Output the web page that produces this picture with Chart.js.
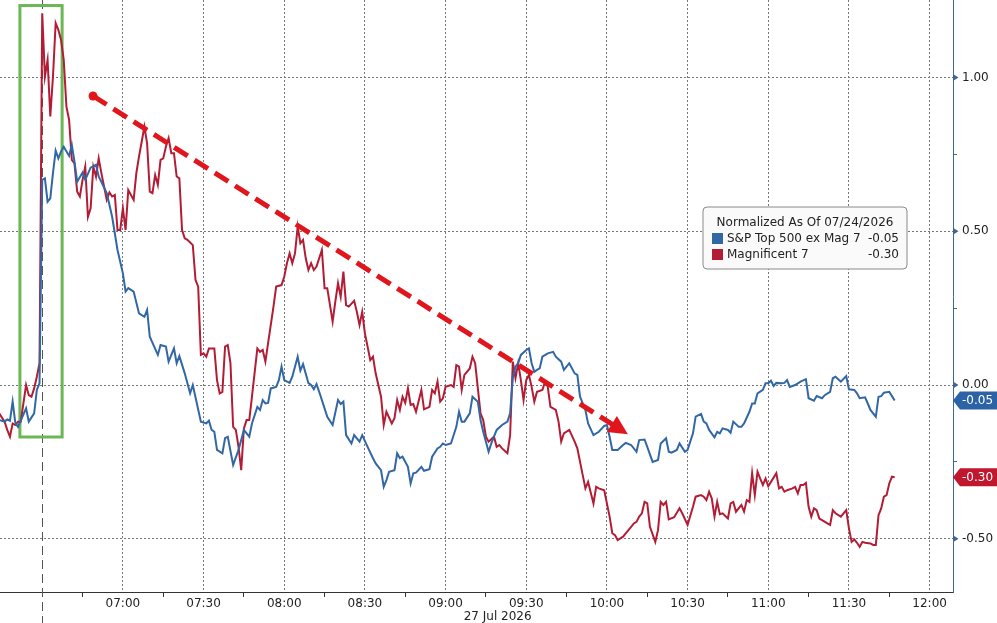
<!DOCTYPE html>
<html>
<head>
<meta charset="utf-8">
<title>S&amp;P ex Mag 7 vs Magnificent 7</title>
<script src="https://cdn.jsdelivr.net/npm/chart.js@4.4.1/dist/chart.umd.min.js"></script>
<style>
  html, body { margin: 0; padding: 0; background: #fff; }
  canvas { display: block; }
</style>
</head>
<body>
<canvas id="chart" width="997" height="623"></canvas>
<script>
/* =====================================================
   DATA
===================================================== */

const timeTicks = ["07:00", "07:30", "08:00", "08:30", "09:00", "09:30",
                   "10:00", "10:30", "11:00", "11:30", "12:00"];
const valueTicks = ["1.00", "0.50", "0.00", "-0.50"];
const seriesNames = ["S&P Top 500 ex Mag 7", "Magnificent 7"];
const legendTitle = "Normalized As Of 07/24/2026";
const dateLabel = "27 Jul 2026";
const sessionStart = "06:30";

// times are minutes after 06:00
const sp493Min = [14,16,17,18,19,20,21,24,25,27,28,29,30,31,32,33,34,35,36,37,38,40,41,42,43,45,46,48,50,51,
  54,56,58,60,61,62,64,66,68,69,70,73,74,76,77,79,80,81,83,85,86,89,91,92,93,94,95,97,98,99,
  101,103,105,107,108,110,111,112,113,114,115,117,118,119,120,122,123,125,126,127,129,130,131,132,133,135,136,138,140,141,
  142,143,145,146,148,149,151,153,154,156,157,158,159,161,162,163,164,166,167,168,169,171,172,174,175,177,178,179,180,182,
  184,185,186,187,189,190,192,193,194,196,197,199,201,203,204,205,206,207,208,210,211,212,213,214,215,216,218,220,221,223,
  224,226,228,229,230,232,233,235,237,239,240,241,242,244,246,247,249,251,252,254,255,257,259,260,262,263,264,266,267,269,
  270,272,273,275,276,277,278,280,281,282,283,285,286,287,289,290,291,293,294,295,296,298,299,300,301,302,303,305,306,307,
  308,310,312,314,315,317,318,320,321,323,324,325,327,329,330,332,333,334,336,337,338,340,341,342,343,345,346,347];
const sp493Val = [-0.114,-0.119,-0.112,-0.116,-0.054,-0.123,-0.136,-0.076,-0.119,-0.092,-0.016,0.006,0.667,0.672,0.596,0.607,0.689,0.762,0.737,0.759,0.775,0.745,0.781,0.726,0.661,0.691,0.667,0.707,0.716,0.678,
  0.624,0.547,0.439,0.363,0.304,0.315,0.304,0.233,0.222,0.244,0.157,0.098,0.130,0.125,0.076,0.119,0.071,0.094,0.038,-0.027,0,-0.119,-0.125,-0.116,-0.146,-0.152,-0.211,-0.222,-0.173,-0.168,
  -0.260,-0.211,-0.146,-0.168,-0.125,-0.071,-0.081,-0.049,-0.060,-0.058,-0.011,-0.006,0.016,0.060,0.016,0.007,0.027,0.092,0.047,0.068,0.006,0,-0.014,0.003,-0.022,-0.076,-0.103,-0.130,-0.049,-0.062,
  -0.054,-0.163,-0.190,-0.163,-0.184,-0.163,-0.201,-0.238,-0.255,-0.277,-0.331,-0.309,-0.282,-0.277,-0.222,-0.238,-0.233,-0.266,-0.320,-0.287,-0.285,-0.266,-0.279,-0.274,-0.233,-0.206,-0.201,-0.190,-0.195,-0.190,
  -0.136,-0.087,-0.119,-0.119,-0.092,-0.038,-0.054,-0.114,-0.152,-0.217,-0.190,-0.146,-0.130,-0.119,-0.092,0.022,0.060,0.071,0.098,0.114,0.119,0.071,0.043,0.049,0.054,0.092,0.103,0.108,0.092,0.076,
  0.049,0.071,0.038,0.033,-0.038,-0.081,-0.125,-0.163,-0.152,-0.133,-0.130,-0.168,-0.211,-0.211,-0.195,-0.188,-0.195,-0.217,-0.179,-0.177,-0.201,-0.250,-0.244,-0.190,-0.173,-0.217,-0.220,-0.211,-0.190,-0.217,
  -0.211,-0.157,-0.103,-0.094,-0.119,-0.125,-0.146,-0.170,-0.152,-0.157,-0.141,-0.146,-0.155,-0.119,-0.136,-0.136,-0.125,-0.087,-0.060,-0.060,-0.027,-0.016,0.006,0.006,0.014,-0.003,0.007,0.006,0.007,0.016,
  -0.006,0,0.011,0.019,-0.043,-0.051,-0.036,-0.043,-0.033,-0.022,0.022,0.027,0.011,0.029,-0.014,-0.016,-0.027,-0.043,-0.040,-0.060,-0.081,-0.103,-0.038,-0.036,-0.025,-0.022,-0.036,-0.050];

const mag7Min = [14,16,17,18,19,20,21,22,24,25,26,27,28,29,30,31,32,33,34,35,36,37,38,39,40,41,42,43,44,45,
  46,47,48,49,50,51,52,54,55,56,57,58,59,60,61,62,64,65,66,68,69,70,71,72,73,74,75,76,77,78,
  79,80,81,82,83,84,86,87,88,89,90,91,92,94,95,96,97,98,99,100,101,102,103,104,105,106,107,108,110,111,
  112,113,114,116,117,119,120,121,122,123,124,125,126,127,128,129,130,131,132,134,135,136,138,139,140,141,142,143,144,146,
  147,148,149,150,151,152,153,154,156,157,158,160,161,162,163,164,165,166,167,168,169,171,172,174,175,176,177,178,179,180,
  182,183,184,185,186,187,189,190,191,193,194,195,196,198,199,200,201,203,204,205,206,207,208,209,210,211,212,213,214,216,
  217,218,219,221,222,223,224,226,228,229,231,232,233,235,236,237,239,241,242,243,244,246,247,249,250,251,252,253,254,255,
  256,258,259,260,261,262,263,265,267,268,270,272,273,275,276,277,278,279,280,281,282,283,285,286,287,288,290,291,292,293,
  294,295,296,297,298,299,300,301,303,304,305,306,307,309,310,311,312,313,314,315,316,317,318,319,320,322,323,324,325,327,
  329,330,331,332,333,334,335,336,338,339,340,341,342,343,344,345,346,347];
const mag7Val = [-0.092,-0.119,-0.146,-0.168,-0.125,-0.130,-0.119,-0.119,0,-0.033,-0.038,-0.011,0.027,0.071,1.209,1.003,1.057,0.873,1.003,1.177,1.155,1.122,1.057,0.905,0.862,0.732,0.721,0.629,0.613,0.667,
  0.710,0.547,0.575,0.710,0.678,0.737,0.689,0.602,0.626,0.613,0.618,0.504,0.504,0.575,0.504,0.634,0.602,0.689,0.743,0.840,0.786,0.629,0.624,0.683,0.651,0.732,0.737,0.775,0.803,0.754,
  0.754,0.678,0.672,0.504,0.477,0.472,0.455,0.342,0.320,0.098,0.103,0.092,0.119,0.119,0.016,-0.027,-0.022,0.125,0.130,0.071,-0.136,-0.146,-0.201,-0.277,-0.141,-0.114,-0.114,-0.038,0.119,0.108,
  0.114,0.076,0.136,0.255,0.320,0.325,0.352,0.396,0.428,0.396,0.428,0.515,0.461,0.472,0.412,0.374,0.396,0.374,0.385,0.439,0.315,0.315,0.206,0.271,0.331,0.287,0.369,0.260,0.255,0.274,
  0.238,0.195,0.238,0.168,0.125,0.081,0.092,0.038,-0.038,-0.130,-0.087,-0.125,-0.108,-0.049,-0.081,-0.038,-0.058,-0.011,-0.065,-0.062,-0.087,-0.016,-0.079,-0.071,-0.016,-0.027,0.011,-0.054,-0.043,-0.006,
  0,-0.006,0.065,0.060,-0.016,0.033,0.054,0.092,0.071,-0.092,-0.114,-0.168,-0.184,-0.168,-0.201,-0.195,-0.206,-0.222,-0.163,0.076,0.022,0.071,0.016,-0.049,0.016,0.033,-0.006,-0.054,-0.022,-0.016,
  0.011,-0.006,-0.071,-0.081,-0.119,-0.184,-0.157,-0.146,-0.184,-0.206,-0.293,-0.336,-0.315,-0.385,-0.331,-0.336,-0.342,-0.428,-0.482,-0.488,-0.504,-0.493,-0.482,-0.461,-0.450,-0.445,-0.428,-0.417,-0.380,-0.385,
  -0.461,-0.510,-0.472,-0.380,-0.390,-0.380,-0.437,-0.430,-0.401,-0.417,-0.455,-0.396,-0.363,-0.358,-0.363,-0.374,-0.347,-0.369,-0.428,-0.380,-0.420,-0.417,-0.434,-0.385,-0.380,-0.412,-0.390,-0.412,-0.374,-0.380,
  -0.287,-0.358,-0.282,-0.304,-0.325,-0.304,-0.329,-0.315,-0.287,-0.336,-0.331,-0.347,-0.342,-0.336,-0.331,-0.352,-0.325,-0.325,-0.318,-0.396,-0.428,-0.401,-0.407,-0.434,-0.439,-0.450,-0.455,-0.407,-0.417,-0.428,
  -0.407,-0.466,-0.510,-0.502,-0.513,-0.526,-0.510,-0.513,-0.515,-0.520,-0.520,-0.423,-0.401,-0.363,-0.358,-0.320,-0.298,-0.300];


/* =====================================================
   LAYOUT / STYLE CONSTANTS
===================================================== */

const X_MIN = 14.3, X_MAX = 368.7;      // visible time window (min after 06:00)
const Y_MIN = -0.673, Y_MAX = 1.252;

const BLUE = "#3267a5";
const RED = "#b21d35";
const FONT = "DejaVu Sans";

// annotations in data units (minutes, value)
const greenBox = { x0: 21.7, x1: 37.4, yTop: 1.234, yBottom: -0.169 };
const trendArrow = { x0: 48.9, y0: 0.94, x1: 247.8, y1: -0.16 };

function toMin(hhmm) {
  const [h, m] = hhmm.split(":").map(Number);
  return (h - 6) * 60 + m;
}

const xLabelAt = {};
timeTicks.forEach(s => { xLabelAt[toMin(s)] = s; });

const yLabelAt = {};
valueTicks.forEach(s => { yLabelAt[Number(s)] = s; });

// major ticks every 30 min with a minor tick in between
const xTickValues = [];
for (let m = toMin(sessionStart) + 15; m <= toMin(timeTicks[timeTicks.length - 1]); m += 15) xTickValues.push(m);

const yTickValues = [];
for (let v = -0.5; v <= 1.0001; v += 0.25) yTickValues.push(Math.round(v * 100) / 100);

const isMajorX = v => xLabelAt[v] !== undefined;
const isMajorY = v => yLabelAt[v] !== undefined;


/* =====================================================
   OVERLAY PLUGIN (BOXES, ARROW, TAGS, LEGEND)
===================================================== */

const overlay = {
  id: "overlay",

  beforeDatasetsDraw(chart) {
    const { ctx, scales: { x, y } } = chart;

    // session start marker
    const sx = Math.round(x.getPixelForValue(toMin(sessionStart))) + 0.5;
    ctx.save();
    ctx.strokeStyle = "#555";
    ctx.lineWidth = 1;
    ctx.setLineDash([9, 5]);
    ctx.beginPath();
    ctx.moveTo(sx, 0);
    ctx.lineTo(sx, chart.height);
    ctx.stroke();
    ctx.restore();

    // green highlight box
    const gx0 = x.getPixelForValue(greenBox.x0);
    const gx1 = x.getPixelForValue(greenBox.x1);
    const gy0 = y.getPixelForValue(greenBox.yTop);
    const gy1 = y.getPixelForValue(greenBox.yBottom);
    ctx.save();
    ctx.strokeStyle = "#6cb755";
    ctx.lineWidth = 3;
    ctx.strokeRect(gx0, gy0, gx1 - gx0, gy1 - gy0);
    ctx.restore();
  },

  afterDatasetsDraw(chart) {
    const { ctx, scales: { x, y } } = chart;

    // red dashed trend arrow
    const p0 = { x: x.getPixelForValue(trendArrow.x0), y: y.getPixelForValue(trendArrow.y0) };
    const p1 = { x: x.getPixelForValue(trendArrow.x1), y: y.getPixelForValue(trendArrow.y1) };
    const len = Math.hypot(p1.x - p0.x, p1.y - p0.y);
    const ux = (p1.x - p0.x) / len, uy = (p1.y - p0.y) / len;
    const head = 19, half = 9.5;
    const bx = p1.x - ux * head, by = p1.y - uy * head;

    ctx.save();
    ctx.strokeStyle = "#e0161c";
    ctx.fillStyle = "#e0161c";
    ctx.lineWidth = 5;
    ctx.setLineDash([16, 8]);
    ctx.beginPath();
    ctx.moveTo(p0.x, p0.y);
    ctx.lineTo(bx + ux * 2, by + uy * 2);
    ctx.stroke();
    ctx.setLineDash([]);

    ctx.beginPath();
    ctx.arc(p0.x, p0.y, 4.5, 0, Math.PI * 2);
    ctx.fill();

    ctx.beginPath();
    ctx.moveTo(p1.x, p1.y);
    ctx.lineTo(bx - uy * half, by + ux * half);
    ctx.lineTo(bx + uy * half, by - ux * half);
    ctx.closePath();
    ctx.fill();
    ctx.restore();
  },

  afterDraw(chart) {
    const { ctx, chartArea, scales: { x, y } } = chart;
    const axisX = chartArea.right;

    ctx.save();

    // triangle markers on major value ticks
    ctx.fillStyle = "#3f6791";
    yTickValues.filter(isMajorY).forEach(v => {
      const py = y.getPixelForValue(v);
      ctx.beginPath();
      ctx.moveTo(axisX, py - 3.5);
      ctx.lineTo(axisX + 5.5, py);
      ctx.lineTo(axisX, py + 3.5);
      ctx.closePath();
      ctx.fill();
    });

    // last value tags
    ctx.font = "12px " + FONT;
    ctx.textBaseline = "middle";
    ctx.textAlign = "left";
    chart.data.datasets.forEach(ds => {
      const last = ds.data[ds.data.length - 1].y;
      const py = y.getPixelForValue(last);
      ctx.fillStyle = ds.tagColor;
      ctx.beginPath();
      ctx.moveTo(axisX, py);
      ctx.lineTo(axisX + 7, py - 9);
      ctx.lineTo(chart.width, py - 9);
      ctx.lineTo(chart.width, py + 9);
      ctx.lineTo(axisX + 7, py + 9);
      ctx.closePath();
      ctx.fill();
      ctx.fillStyle = "#fff";
      ctx.fillText(last.toFixed(2), axisX + 9, py + 0.5);
    });

    // date under the session axis
    const dx = (x.getPixelForValue(toMin(sessionStart)) + chartArea.right) / 2;
    ctx.fillStyle = "#222";
    ctx.textAlign = "center";
    ctx.fillText(dateLabel, dx, 617);

    // legend box
    const lx = 703, ly = 207, lw = 204, lh = 62, r = 4;
    ctx.beginPath();
    ctx.moveTo(lx + r, ly);
    ctx.lineTo(lx + lw - r, ly);
    ctx.quadraticCurveTo(lx + lw, ly, lx + lw, ly + r);
    ctx.lineTo(lx + lw, ly + lh - r);
    ctx.quadraticCurveTo(lx + lw, ly + lh, lx + lw - r, ly + lh);
    ctx.lineTo(lx + r, ly + lh);
    ctx.quadraticCurveTo(lx, ly + lh, lx, ly + lh - r);
    ctx.lineTo(lx, ly + r);
    ctx.quadraticCurveTo(lx, ly, lx + r, ly);
    ctx.closePath();
    ctx.fillStyle = "#fafafa";
    ctx.fill();
    ctx.strokeStyle = "#8a8a8a";
    ctx.lineWidth = 1;
    ctx.stroke();

    ctx.fillStyle = "#222";
    ctx.textAlign = "center";
    ctx.fillText(legendTitle, lx + lw / 2, ly + 16);

    chart.data.datasets.forEach((ds, i) => {
      const ry = ly + 32 + i * 16;
      const last = ds.data[ds.data.length - 1].y;
      ctx.fillStyle = ds.borderColor;
      ctx.fillRect(lx + 9, ry - 6, 11, 11);
      ctx.fillStyle = "#222";
      ctx.textAlign = "left";
      ctx.fillText(ds.label, lx + 24, ry);
      ctx.textAlign = "right";
      ctx.fillText(last.toFixed(2), lx + 196, ry);
    });

    ctx.restore();
  }
};


/* =====================================================
   CHART
===================================================== */

Chart.defaults.font.family = FONT;
Chart.defaults.font.size = 12;

const toPoints = (mins, vals) => mins.map((m, i) => ({ x: m, y: vals[i] }));

new Chart(document.getElementById("chart"), {
  type: "line",
  data: {
    datasets: [
      {
        label: seriesNames[0],
        data: toPoints(sp493Min, sp493Val),
        borderColor: BLUE,
        tagColor: "#2c63a6",
        borderWidth: 2,
        pointRadius: 0,
        tension: 0
      },
      {
        label: seriesNames[1],
        data: toPoints(mag7Min, mag7Val),
        borderColor: RED,
        tagColor: "#c0162e",
        borderWidth: 2,
        pointRadius: 0,
        tension: 0
      }
    ]
  },
  options: {
    responsive: false,
    animation: false,
    layout: { padding: 0 },
    plugins: {
      legend: { display: false },
      tooltip: { enabled: false }
    },
    scales: {
      x: {
        type: "linear",
        min: X_MIN,
        max: X_MAX,
        afterBuildTicks: s => { s.ticks = xTickValues.map(v => ({ value: v })); },
        afterFit: s => { s.height = 31; s.paddingLeft = 0; s.paddingRight = 0; },
        ticks: {
          autoSkip: false,
          maxRotation: 0,
          minRotation: 0,
          padding: 0,
          color: "#222",
          callback: v => xLabelAt[v] || ""
        },
        grid: {
          color: c => (c.tick && isMajorX(c.tick.value)) ? "#767676" : "rgba(0,0,0,0)",
          tickColor: c => (c.tick && isMajorX(c.tick.value)) ? "rgba(0,0,0,0)" : "#333",
          tickLength: 5,
          tickBorderDash: [],
          lineWidth: 1
        },
        border: { color: "#333", width: 1, dash: [2, 2] }
      },
      y: {
        type: "linear",
        position: "right",
        min: Y_MIN,
        max: Y_MAX,
        afterBuildTicks: s => { s.ticks = yTickValues.map(v => ({ value: v })); },
        afterFit: s => { s.width = 44; s.paddingTop = 0; s.paddingBottom = 0; },
        ticks: {
          autoSkip: false,
          padding: 5,
          color: "#222",
          callback: v => yLabelAt[v] || ""
        },
        grid: {
          color: c => (c.tick && isMajorY(c.tick.value)) ? "#767676" : "rgba(0,0,0,0)",
          tickColor: c => (c.tick && isMajorY(c.tick.value)) ? "rgba(0,0,0,0)" : "#3f6791",
          tickLength: 4,
          tickBorderDash: [],
          lineWidth: 1
        },
        border: { color: "#3f6791", width: 1, dash: [2, 2] }
      }
    }
  },
  plugins: [overlay]
});
</script>
</body>
</html>
